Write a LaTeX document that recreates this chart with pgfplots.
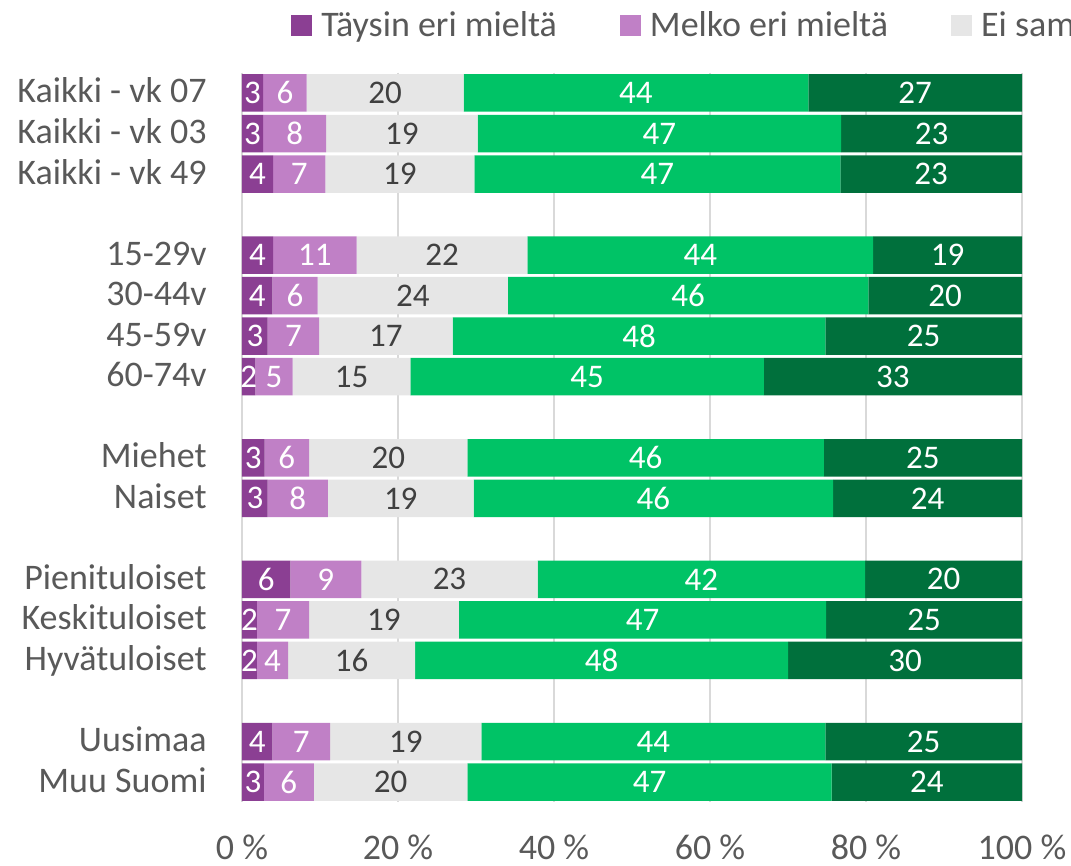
\documentclass[border=0pt]{standalone}
\usepackage{fontspec}
\setmainfont{Carlito}
\usepackage{pgfplots}
\usepackage{pgfplotstable}
\pgfplotsset{compat=1.18}
\definecolor{cA}{HTML}{8B3F93}
\definecolor{cB}{HTML}{C080C6}
\definecolor{cC}{HTML}{E6E6E6}
\definecolor{cD}{HTML}{00C366}
\definecolor{cE}{HTML}{00703C}
\definecolor{txt}{HTML}{595959}
\definecolor{dtxt}{HTML}{404040}
\definecolor{gridc}{HTML}{D9D9D9}
\pgfplotstableread{
y a b c d e
0 2.7 5.6 20.1 44.2 27.4
1 2.7 8.1 19.4 46.6 23.2
2 4.0 6.7 19.1 46.9 23.3
4 4.0 10.7 21.9 44.3 19.1
5 3.9 5.8 24.4 46.2 19.7
6 3.3 6.6 17.1 47.8 25.2
7 1.7 4.8 15.1 45.3 33.1
9 2.9 5.7 20.3 45.7 25.4
10 3.3 7.7 18.7 46.1 24.2
12 6.2 9.1 22.6 42.0 20.1
13 1.9 6.7 19.2 47.1 25.1
14 1.9 4.0 16.3 47.8 30.0
16 3.9 7.4 19.4 44.1 25.2
17 2.8 6.4 19.7 46.7 24.4
}\data
\pgfplotsset{
  seg/.style 2 args={
    fill=#1, draw=none,
    point meta=explicit,
    nodes near coords={\pgfmathprintnumber[fixed,precision=0]{\pgfplotspointmeta}},
    every node near coord/.style={anchor=center, font=\fontsize{16.5}{19}\selectfont, inner sep=0pt, text=#2},
  }
}
\begin{document}
\begin{tikzpicture}
\begin{axis}[name=ax,
  scale only axis, width=390pt, height=364.8pt,
  xbar stacked, bar width=18.75pt,
  xmin=0, xmax=100, ymin=-0.5, ymax=17.5, y dir=reverse,
  /pgf/number format/assume math mode=true,
  xtick={0,20,40,60,80,100},
  xticklabels={0 \%,20 \%,40 \%,60 \%,80 \%,100 \%},
  ytick={0,1,2,4,5,6,7,9,10,12,13,14,16,17},
  yticklabels={Kaikki - vk 07,Kaikki - vk 03,Kaikki - vk 49,15-29v,30-44v,45-59v,60-74v,Miehet,Naiset,Pienituloiset,Keskituloiset,Hyvätuloiset,Uusimaa,Muu Suomi},
  xmajorgrids, grid style={draw=gridc, line width=0.75pt},
  axis lines*=left,
  x axis line style={draw=none},
  y axis line style={draw=gridc, line width=0.75pt},
  major tick length=0pt,
  tick label style={font=\fontsize{18}{21}\selectfont, text=txt},
  yticklabel style={anchor=base east, inner sep=0pt, xshift=-17.5pt, yshift=-5pt},
  xticklabel style={anchor=base, inner sep=0pt, yshift=-28.5pt},
  legend columns=-1,
  legend image code/.code={\fill[#1] (0pt,-5.25pt) rectangle (10.5pt,5.25pt);},
  legend style={at={(rel axis cs:0,1)}, anchor=west, xshift=24.5pt, yshift=23.5pt,
    draw=none, fill=none, inner sep=0pt,
    font=\fontsize{18}{21}\selectfont, text=txt,
    nodes={inner sep=0pt},
    /tikz/every odd column/.append style={column sep=4.5pt},
    /tikz/every even column/.append style={column sep=31.5pt}},
  legend cell align=left,
]
\addplot[seg={cA}{white}] table[x=a, y=y, meta=a] {\data};
\addplot[seg={cB}{white}] table[x=b, y=y, meta=b] {\data};
\addplot[seg={cC}{dtxt}] table[x=c, y=y, meta=c] {\data};
\addplot[seg={cD}{white}] table[x=d, y=y, meta=d] {\data};
\addplot[seg={cE}{white}] table[x=e, y=y, meta=e] {\data};
\legend{Täysin eri mieltä, Melko eri mieltä, Ei samaa eikä eri mieltä, Melko samaa mieltä, Täysin samaa mieltä}
\end{axis}
\pgfresetboundingbox
\path[use as bounding box] (ax.south west) ++(-121pt,-31.85pt) rectangle ++(535.5pt,433pt);
\end{tikzpicture}
\end{document}
